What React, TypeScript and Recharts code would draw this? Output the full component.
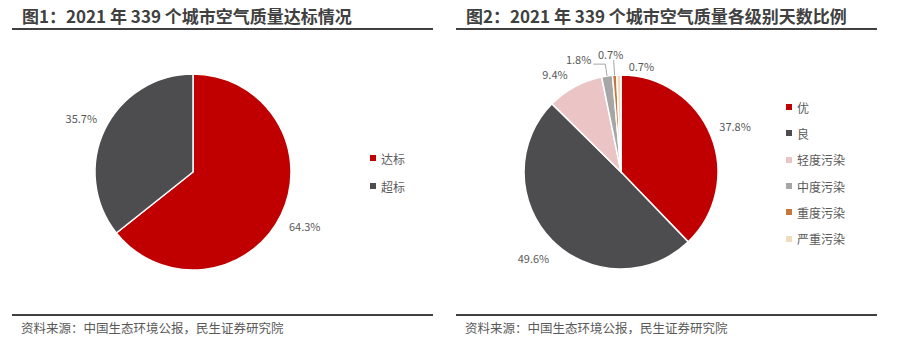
import { PieChart, Pie, Cell } from 'recharts'

// 图1 数据
const standardNames = ['达标', '超标']
const standardValues = [64.3, 35.7]
const standardColors = ['#C00000', '#4D4D4F']

// 图2 数据
const levelNames = ['优', '良', '轻度污染', '中度污染', '重度污染', '严重污染']
const levelValues = [37.8, 49.6, 9.4, 1.8, 0.7, 0.7]
const levelColors = ['#C00000', '#4D4D4F', '#EBC5C5', '#A6A6A6', '#C5773F', '#F0DCBC']

const standardData = standardNames.map((name, i) => ({ name, value: standardValues[i] }))
const levelData = levelNames.map((name, i) => ({ name, value: levelValues[i] }))

const FONT = '"Noto Sans CJK SC", "Noto Sans", sans-serif'
const RADIAN = Math.PI / 180
const LABEL_COLOR = '#595959'
const NO_MARGIN = { top: 0, right: 0, bottom: 0, left: 0 }

function fmt(v: number) {
  return `${v.toFixed(1)}%`
}

function pt(cx: number, cy: number, r: number, angle: number) {
  return { x: cx + r * Math.cos(-angle * RADIAN), y: cy + r * Math.sin(-angle * RADIAN) }
}

function simpleLabel(props: any) {
  const { cx, cy, midAngle, outerRadius, value } = props
  const p = pt(cx, cy, outerRadius + 26, midAngle)
  return (
    <text x={p.x} y={p.y} fill={LABEL_COLOR} fontSize={11} textAnchor="middle" dominantBaseline="central" fontFamily={FONT}>
      {fmt(value)}
    </text>
  )
}

function levelLabel(props: any) {
  const { cx, cy, midAngle, outerRadius, value, index } = props
  const text = (x: number, y: number, anchor: string) => (
    <text x={x} y={y} fill={LABEL_COLOR} fontSize={11} textAnchor={anchor} dominantBaseline="central" fontFamily={FONT}>
      {fmt(value)}
    </text>
  )
  if (index === 0 || index === 1) {
    const p = pt(cx, cy, outerRadius + 26, midAngle)
    return text(p.x, p.y, 'middle')
  }
  if (index === 2) {
    const p = pt(cx, cy, outerRadius + 15, midAngle)
    return text(p.x, p.y, 'end')
  }
  if (index === 3) {
    const a = pt(cx, cy, outerRadius, midAngle)
    const b = pt(cx, cy, outerRadius + 12, midAngle)
    return (
      <g>
        <polyline points={`${a.x},${a.y} ${b.x},${b.y} ${b.x - 12},${b.y}`} fill="none" stroke="#A6A6A6" strokeWidth={1} />
        {text(b.x - 14, b.y - 5, 'end')}
      </g>
    )
  }
  if (index === 4) {
    const a = pt(cx, cy, outerRadius, midAngle)
    const b = pt(cx, cy, outerRadius + 15, midAngle)
    return (
      <g>
        <line x1={a.x} y1={a.y} x2={b.x} y2={b.y} stroke="#A6A6A6" strokeWidth={1} />
        {text(b.x - 3, b.y - 6, 'middle')}
      </g>
    )
  }
  const p = pt(cx, cy, outerRadius + 9, midAngle)
  return text(p.x + 10, p.y, 'start')
}

function LegendList({ names, colors, gap, left, top }: { names: string[]; colors: string[]; gap: number; left: number; top: number }) {
  return (
    <div style={{ position: 'absolute', left, top, fontFamily: FONT, fontSize: 12, color: LABEL_COLOR }}>
      {names.map((n, i) => (
        <div key={n} style={{ display: 'flex', alignItems: 'center', height: gap }}>
          <span style={{ width: 6, height: 6, background: colors[i], display: 'inline-block', marginRight: 5 }} />
          <span>{n}</span>
        </div>
      ))}
    </div>
  )
}

function Panel({ left, title, children }: { left: number; title: string; children: any }) {
  return (
    <div style={{ position: 'absolute', left, top: 0, width: 450, height: 355 }}>
      <div
        style={{
          position: 'absolute',
          left: 10,
          top: 5,
          fontFamily: FONT,
          fontWeight: 700,
          fontSize: 17,
          color: '#404040',
          lineHeight: '22px',
          whiteSpace: 'nowrap',
        }}
      >
        {title}
      </div>
      <div style={{ position: 'absolute', left: 0, top: 28, width: 421, height: 2, background: '#404040' }} />
      {children}
      <div style={{ position: 'absolute', left: 0, top: 314, width: 421, height: 2, background: '#404040' }} />
      <div
        style={{
          position: 'absolute',
          left: 9,
          top: 319,
          fontFamily: FONT,
          fontSize: 12.5,
          color: '#595959',
          lineHeight: '18px',
          whiteSpace: 'nowrap',
        }}
      >
        资料来源：中国生态环境公报，民生证券研究院
      </div>
    </div>
  )
}

export default function App() {
  return (
    <div style={{ position: 'absolute', left: 0, top: 0, width: 900, height: 355, background: '#fff' }}>
      <Panel left={12} title="图1：2021 年 339 个城市空气质量达标情况">
        <div style={{ position: 'absolute', left: -12, top: 0 }}>
          <PieChart width={450} height={355} margin={NO_MARGIN}>
            <Pie
              data={standardData}
              dataKey="value"
              nameKey="name"
              cx={193}
              cy={172}
              outerRadius={98}
              startAngle={90}
              endAngle={-270}
              stroke="#fff"
              strokeWidth={1.5}
              label={simpleLabel}
              labelLine={false}
              isAnimationActive={false}
            >
              {standardData.map((d, i) => (
                <Cell key={d.name} fill={standardColors[i]} />
              ))}
            </Pie>
          </PieChart>
        </div>
        <LegendList names={standardNames} colors={standardColors} gap={28} left={358} top={144} />
      </Panel>
      <Panel left={456} title="图2：2021 年 339 个城市空气质量各级别天数比例">
        <div style={{ position: 'absolute', left: -6, top: 0 }}>
          <PieChart width={450} height={355} margin={NO_MARGIN}>
            <Pie
              data={levelData}
              dataKey="value"
              nameKey="name"
              cx={171}
              cy={172}
              outerRadius={97}
              startAngle={90}
              endAngle={-270}
              stroke="#fff"
              strokeWidth={1.5}
              label={levelLabel}
              labelLine={false}
              isAnimationActive={false}
            >
              {levelData.map((d, i) => (
                <Cell key={d.name} fill={levelColors[i]} />
              ))}
            </Pie>
          </PieChart>
        </div>
        <LegendList names={levelNames} colors={levelColors} gap={26.3} left={330} top={94} />
      </Panel>
    </div>
  )
}
